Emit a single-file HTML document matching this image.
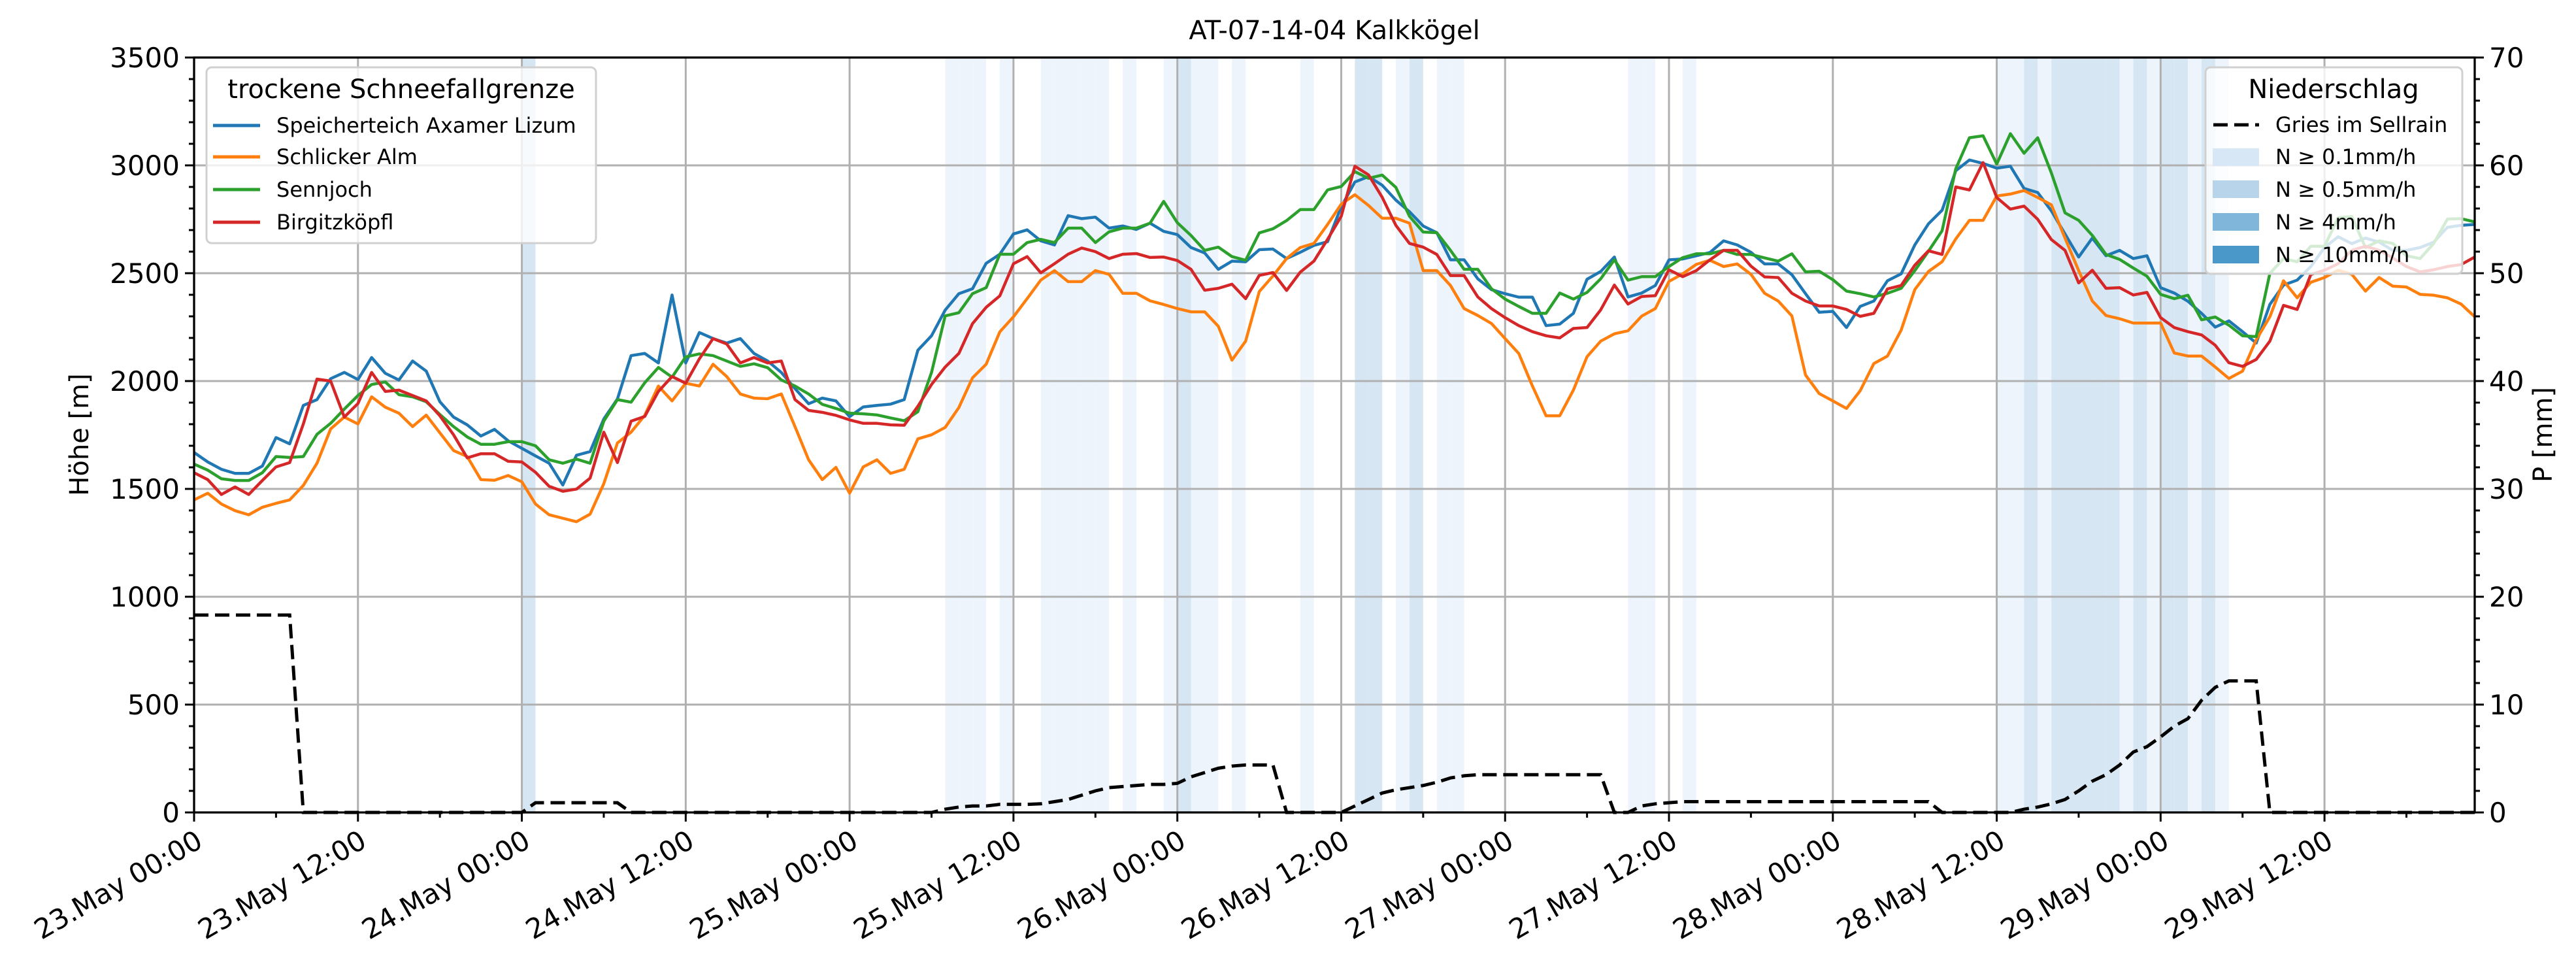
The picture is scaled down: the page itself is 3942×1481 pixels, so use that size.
<!DOCTYPE html>
<html><head><meta charset="utf-8"><style>
html,body{margin:0;padding:0;background:#fff;}
svg{display:block;font-family:"DejaVu Sans","Liberation Sans",sans-serif;}
</style></head><body>
<svg id="chart" width="3942" height="1481" viewBox="0 0 3942 1481" xmlns="http://www.w3.org/2000/svg">
<rect width="3942" height="1481" fill="#fff"/>
<g id="bands"></g>
<g id="grid"></g>
<g id="series"></g>
<g id="axes"></g>
<text x="2042" y="60" font-size="40" text-anchor="middle">AT-07-14-04 Kalkkögel</text>
<text transform="translate(135,665) rotate(-90)" font-size="40" text-anchor="middle">Höhe [m]</text>
<text transform="translate(3905,665) rotate(-90)" font-size="40" text-anchor="middle">P [mm]</text>
<g>
<rect x="316" y="103" width="596" height="269" rx="8" fill="rgba(255,255,255,0.8)" stroke="#d0d0d0" stroke-width="3"/>
<text x="614" y="150" font-size="40" text-anchor="middle">trockene Schneefallgrenze</text>
<g><line x1="326" y1="192" x2="398" y2="192" stroke="#1f77b4" stroke-width="5"/><text x="423" y="203" font-size="32">Speicherteich Axamer Lizum</text></g>
<g><line x1="326" y1="240" x2="398" y2="240" stroke="#ff7f0e" stroke-width="5"/><text x="423" y="251" font-size="32">Schlicker Alm</text></g>
<g><line x1="326" y1="290" x2="398" y2="290" stroke="#2ca02c" stroke-width="5"/><text x="423" y="301" font-size="32">Sennjoch</text></g>
<g><line x1="326" y1="340" x2="398" y2="340" stroke="#d62728" stroke-width="5"/><text x="423" y="351" font-size="32">Birgitzköpfl</text></g>
</g>
<g>
<rect x="3375" y="103" width="393" height="316" rx="8" fill="rgba(255,255,255,0.8)" stroke="#d0d0d0" stroke-width="3"/>
<text x="3571" y="150" font-size="40" text-anchor="middle">Niederschlag</text>
<g><line x1="3387" y1="191" x2="3457" y2="191" stroke="#000" stroke-width="5" stroke-dasharray="22,10"/><text x="3482" y="202" font-size="32">Gries im Sellrain</text></g>
<g><rect x="3386" y="227" width="71" height="27" fill="#d8e7f5"/><text x="3482" y="251" font-size="32">N ≥ 0.1mm/h</text></g>
<g><rect x="3386" y="276" width="71" height="27" fill="#b7d4ea"/><text x="3482" y="301" font-size="32">N ≥ 0.5mm/h</text></g>
<g><rect x="3386" y="326" width="71" height="27" fill="#7fb6da"/><text x="3482" y="351" font-size="32">N ≥ 4mm/h</text></g>
<g><rect x="3386" y="376" width="71" height="27" fill="#4a98c9"/><text x="3482" y="401" font-size="32">N ≥ 10mm/h</text></g>
</g>
</svg>
<script>
const speicherteich=[1669,1625,1591,1572,1572,1606,1738,1709,1887,1914,2011,2040,2007,2109,2036,2005,2093,2046,1904,1833,1797,1745,1776,1723,1688,1653,1619,1518,1656,1673,1824,1917,2118,2128,2084,2399,2084,2225,2197,2176,2197,2128,2093,2040,1965,1895,1921,1908,1835,1880,1887,1893,1914,2143,2210,2329,2405,2428,2546,2588,2682,2701,2650,2631,2767,2753,2760,2709,2719,2703,2732,2694,2679,2619,2594,2518,2556,2553,2609,2612,2568,2597,2629,2646,2808,2923,2948,2908,2839,2785,2719,2688,2562,2562,2474,2424,2405,2389,2389,2257,2264,2314,2472,2508,2575,2390,2408,2443,2562,2566,2581,2596,2650,2631,2597,2543,2543,2493,2405,2319,2323,2248,2346,2371,2465,2497,2631,2729,2792,2975,3025,3009,2987,2996,2893,2874,2789,2682,2575,2663,2581,2606,2568,2581,2433,2408,2370,2314,2250,2279,2229,2176,2355,2445,2468,2531,2619,2669,2637,2663,2644,2606,2606,2619,2644,2713,2722,2726];
const schlickerAlm=[1449,1480,1430,1399,1380,1415,1433,1449,1516,1619,1778,1833,1801,1927,1879,1851,1789,1842,1760,1678,1650,1543,1540,1562,1533,1430,1380,1364,1348,1383,1524,1713,1763,1841,1977,1908,1990,1977,2078,2021,1940,1921,1918,1940,1789,1635,1543,1600,1480,1602,1635,1572,1591,1732,1751,1785,1877,2015,2078,2228,2298,2382,2468,2512,2461,2461,2512,2495,2407,2407,2372,2355,2336,2321,2321,2254,2097,2185,2415,2487,2568,2619,2638,2726,2820,2864,2814,2755,2755,2732,2512,2512,2443,2336,2304,2267,2197,2128,1977,1839,1839,1958,2113,2185,2219,2233,2301,2336,2462,2497,2541,2560,2531,2543,2495,2407,2371,2302,2028,1942,1908,1873,1955,2081,2116,2236,2424,2508,2553,2659,2745,2745,2858,2867,2883,2851,2817,2663,2512,2371,2304,2289,2269,2269,2269,2130,2116,2116,2065,2012,2046,2191,2298,2465,2386,2458,2480,2514,2495,2417,2480,2440,2436,2402,2398,2386,2357,2298];
const sennjoch=[1615,1587,1547,1539,1539,1575,1650,1646,1650,1753,1804,1870,1933,1984,1996,1937,1927,1904,1845,1789,1741,1707,1707,1719,1719,1700,1635,1619,1638,1619,1814,1914,1902,1992,2063,2018,2112,2126,2118,2093,2068,2080,2062,2005,1977,1940,1892,1873,1851,1848,1843,1829,1816,1858,2040,2302,2317,2405,2433,2588,2588,2642,2657,2642,2709,2709,2642,2692,2709,2709,2732,2833,2734,2675,2606,2621,2577,2560,2687,2706,2744,2795,2795,2886,2902,2971,2940,2955,2898,2764,2691,2688,2606,2518,2518,2428,2380,2346,2314,2314,2408,2380,2411,2474,2562,2468,2484,2484,2531,2572,2590,2590,2606,2587,2587,2571,2556,2590,2506,2509,2470,2417,2405,2390,2407,2430,2512,2602,2697,2984,3128,3137,3006,3147,3056,3128,2965,2780,2745,2675,2587,2564,2524,2486,2402,2382,2398,2284,2297,2259,2210,2206,2499,2568,2553,2625,2625,2757,2763,2619,2650,2638,2581,2568,2638,2751,2753,2738];
const birgitzkoepfl=[1575,1543,1474,1509,1474,1539,1602,1622,1801,2009,2000,1833,1896,2040,1952,1958,1933,1908,1839,1751,1644,1663,1663,1628,1625,1577,1512,1489,1499,1550,1763,1622,1814,1836,1952,2021,1990,2103,2197,2172,2084,2109,2084,2093,1914,1864,1855,1841,1820,1804,1804,1797,1795,1883,1984,2065,2128,2266,2342,2395,2544,2577,2502,2544,2588,2617,2600,2568,2588,2591,2573,2575,2559,2518,2421,2430,2449,2382,2490,2503,2420,2505,2556,2657,2764,2996,2956,2852,2722,2638,2621,2587,2489,2489,2390,2336,2294,2257,2229,2210,2200,2244,2248,2330,2445,2357,2392,2396,2516,2484,2512,2562,2606,2606,2533,2483,2480,2407,2371,2348,2348,2332,2300,2314,2427,2443,2537,2604,2587,2900,2886,3013,2851,2797,2811,2750,2656,2606,2455,2514,2430,2433,2399,2411,2294,2248,2229,2214,2166,2085,2068,2100,2185,2351,2332,2494,2514,2544,2606,2625,2606,2571,2531,2506,2516,2531,2540,2575];
const precipGries=[18.3,18.3,18.3,18.3,18.3,18.3,18.3,18.3,0,0,0,0,0,0,0,0,0,0,0,0,0,0,0,0,0,0.9,0.9,0.9,0.9,0.9,0.9,0.9,0,0,0,0,0,0,0,0,0,0,0,0,0,0,0,0,0,0,0,0,0,0,0,0.3,0.5,0.6,0.6,0.75,0.75,0.75,0.8,1.0,1.2,1.6,2.0,2.3,2.4,2.5,2.6,2.6,2.7,3.3,3.7,4.1,4.3,4.4,4.4,4.4,0,0,0,0,0,0.6,1.2,1.8,2.1,2.3,2.5,2.8,3.2,3.4,3.5,3.5,3.5,3.5,3.5,3.5,3.5,3.5,3.5,3.5,0,0,0.6,0.8,0.9,1.0,1.0,1.0,1.0,1.0,1.0,1.0,1.0,1.0,1.0,1.0,1.0,1.0,1.0,1.0,1.0,1.0,1.0,1.0,0,0,0,0,0,0,0.3,0.5,0.8,1.2,2.0,2.9,3.5,4.4,5.6,6.1,7.0,8.0,8.7,10.4,11.6,12.2,12.2,12.2,0,0,0,0,0,0,0,0,0,0,0,0,0,0,0,0];
const rainLight=[55,56,57,59,62,63,64,65,66,68,71,73,74,76,81,88,91,92,105,106,109,132,133,135,141,143,146,148];
const rainMedium=[24,72,85,86,89,134,136,137,138,139,140,142,144,145,147];
const leftTicks=[0,500,1000,1500,2000,2500,3000,3500];
const rightTicks=[0,10,20,30,40,50,60,70];
const xTickLabels=["23.May 00:00","23.May 12:00","24.May 00:00","24.May 12:00","25.May 00:00","25.May 12:00","26.May 00:00","26.May 12:00","27.May 00:00","27.May 12:00","28.May 00:00","28.May 12:00","29.May 00:00","29.May 12:00"];

const NS="http://www.w3.org/2000/svg";
const L=297,R=3787,T=88,B=1243,HMAX=167;
const xs=h=>L+(R-L)*h/HMAX;
const yl=v=>B-(B-T)*v/3500;
const yr=v=>B-(B-T)*v/70;
function mk(tag,attrs,parent){const e=document.createElementNS(NS,tag);for(const k in attrs)e.setAttribute(k,attrs[k]);parent.appendChild(e);return e;}
const gB=document.getElementById('bands'),gG=document.getElementById('grid'),gS=document.getElementById('series'),gA=document.getElementById('axes');

rainLight.forEach(h=>{const r=mk('rect',{x:xs(h),y:T,width:xs(h+1)-xs(h),height:B-T,fill:'#eef4fb'},gB);

});
rainMedium.forEach(h=>{const r=mk('rect',{x:xs(h),y:T,width:xs(h+1)-xs(h),height:B-T,fill:'#d7e6f3'},gB);

});

leftTicks.forEach(v=>{const l=mk('line',{x1:L,x2:R,y1:yl(v),y2:yl(v),stroke:'#b0b0b0','stroke-width':3},gG);

});
xTickLabels.forEach((s,i)=>{const x=xs(i*12);const l=mk('line',{x1:x,x2:x,y1:T,y2:B,stroke:'#b0b0b0','stroke-width':3},gG);

});

const series=[[speicherteich,'#1f77b4','line-speicherteich'],[schlickerAlm,'#ff7f0e','line-schlicker-alm'],[sennjoch,'#2ca02c','line-sennjoch'],[birgitzkoepfl,'#d62728','line-birgitzkoepfl']];
series.forEach(([d,c,n])=>{const p=mk('polyline',{points:d.map((v,i)=>xs(i)+','+yl(v)).join(' '),fill:'none',stroke:c,'stroke-width':4.5,'stroke-linejoin':'round'},gS);

});
const pp=mk('polyline',{points:precipGries.map((v,i)=>xs(i)+','+yr(v)).join(' '),fill:'none',stroke:'#000','stroke-width':5,'stroke-dasharray':'22,10'},gS);



const frame=mk('rect',{x:L,y:T,width:R-L,height:B-T,fill:'none',stroke:'#000','stroke-width':3.3},gA);


for(let v=0;v<=3500;v+=100){const major=v%500===0;mk('line',{x1:L,x2:L-(major?14:8),y1:yl(v),y2:yl(v),stroke:'#000','stroke-width':3},gA);}
for(let v=0;v<=70;v+=2){const major=v%10===0;mk('line',{x1:R,x2:R+(major?14:8),y1:yr(v),y2:yr(v),stroke:'#000','stroke-width':3},gA);}
for(let h=0;h<=HMAX;h+=6){const major=h%12===0;mk('line',{x1:xs(h),x2:xs(h),y1:B,y2:B+(major?14:8),stroke:'#000','stroke-width':3},gA);}
leftTicks.forEach(v=>{const t=mk('text',{x:L-22,y:yl(v)+15,'font-size':42,'text-anchor':'end'},gA);t.textContent=v;

});
rightTicks.forEach(v=>{const t=mk('text',{x:R+22,y:yr(v)+15,'font-size':42},gA);t.textContent=v;

});
xTickLabels.forEach((s,i)=>{const x=xs(i*12);const t=mk('text',{transform:'translate('+(x)+','+(B+24)+') rotate(-30)','font-size':42,'text-anchor':'end',dy:'0.75em'},gA);t.textContent=s;

});
</script>
</body></html>
